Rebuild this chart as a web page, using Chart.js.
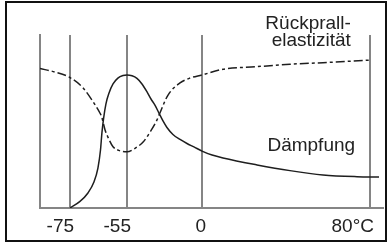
<!DOCTYPE html>
<html><head><meta charset="utf-8">
<script src="https://cdn.jsdelivr.net/npm/chart.js@4/dist/chart.umd.min.js"></script>
<style>
html,body{margin:0;padding:0;background:#fff;}
#wrap{position:relative;width:388px;height:243px;overflow:hidden;background:#fff;}
#c{position:absolute;left:0;top:0;}
#frame{position:absolute;left:5px;top:1px;width:378px;height:237px;border:2px solid #111;pointer-events:none;}
</style></head>
<body><div id="wrap"><canvas id="c" width="388" height="243"></canvas><div id="frame"></div></div>
<script>
// ---- data (temperature in °C, property in arbitrary units 0..100) ----
const tickValues = [-75, -55, 0, 80];
const tickLabels = ['-75', '-55', '0', '80°C'];

const rueckTemp  = [-90, -82.5, -75, -70.4, -66.9, -64.5, -63.9, -62.7, -61.7, -59.9, -57.5, -55, -49.1, -43.0, -38.1, -33.0, -31.2, -24.9, -16.1, -8.8, 0, 10, 26.2, 41.9, 57.6, 80];
const rueckValue = [80.6, 78.6, 75.4, 69.4, 61.4, 54.9, 52.8, 45.1, 41.0, 35.4, 33.1, 32.5, 34.5, 38.3, 43.9, 50.9, 54.3, 65.3, 72.3, 75.1, 76.9, 80.2, 81.7, 83.1, 84.0, 85.5];

const daempTemp  = [-75, -71.5, -68.7, -66.6, -65.2, -64.3, -63.8, -63.2, -62.4, -61.3, -59.9, -58.2, -56.4, -55, -51.3, -47.7, -44.0, -40.3, -37.4, -34.5, -31.2, -28.6, -25.7, -21.3, -16.1, -11.0, -5.9, 0, 4.8, 10, 26.2, 41.9, 57.6, 73.8, 84.3];
const daempValue = [0, 3.8, 8.7, 15.0, 23.1, 33.5, 43.4, 52.0, 60.1, 66.5, 71.7, 75.1, 76.6, 76.9, 76.4, 74.9, 71.7, 67.1, 63.0, 59.5, 54.3, 50.3, 46.5, 42.5, 39.6, 37.3, 35.3, 32.9, 30.6, 28.9, 24.9, 21.6, 19.1, 18.1, 17.9];

const seriesNames = ['Rückprall-elastizität', 'Dämpfung'];

// schematic (non-uniform) temperature axis: breakpoints of the original drawing
const axisStops = [-90, -75, -55, 0, 80, 86.2];
const axisFracs = [0, 0.0875, 0.2536, 0.4723, 0.9621, 1];

// curve captions anchored in data units
const captions = [
  {text: 'Rückprall-', t: 70.9, v: 103.5},
  {text: 'elastizität', t: 70.9, v: 93.6},
  {text: 'Dämpfung', t: 72.9, v: 32.7}
];

function tempToFrac(t) {
  const n = axisStops.length;
  let i = 0;
  if (t <= axisStops[0]) i = 0;
  else if (t >= axisStops[n - 1]) i = n - 2;
  else { while (i < n - 2 && t > axisStops[i + 1]) i++; }
  const a = axisStops[i], b = axisStops[i + 1];
  return axisFracs[i] + (t - a) / (b - a) * (axisFracs[i + 1] - axisFracs[i]);
}
function fracToTemp(f) {
  const n = axisFracs.length;
  let i = 0;
  while (i < n - 2 && f > axisFracs[i + 1]) i++;
  const a = axisFracs[i], b = axisFracs[i + 1];
  return axisStops[i] + (f - a) / (b - a) * (axisStops[i + 1] - axisStops[i]);
}

class PiecewiseScale extends Chart.LinearScale {
  getPixelForValue(value) {
    if (value === null || value === undefined || isNaN(value)) return NaN;
    return this.getPixelForDecimal(tempToFrac(value));
  }
  getValueForPixel(pixel) {
    return fracToTemp(this.getDecimalForPixel(pixel));
  }
}
PiecewiseScale.id = 'piecewise';
PiecewiseScale.defaults = Chart.LinearScale.defaults;
Chart.register(PiecewiseScale);

const FONT = '"Liberation Sans", Arial, Helvetica, sans-serif';
const INK = '#222';
const GRID = '#858585';

const captionPlugin = {
  id: 'captions',
  afterDraw(chart) {
    const {ctx, scales: {x, y}} = chart;
    ctx.save();
    ctx.fillStyle = INK;
    ctx.font = '19px ' + FONT;
    ctx.textAlign = 'right';
    ctx.textBaseline = 'alphabetic';
    captions.forEach(c => ctx.fillText(c.text, x.getPixelForValue(c.t), y.getPixelForValue(c.v)));
    ctx.restore();
  }
};

const toPts = (xs, ys) => xs.map((t, i) => ({x: t, y: ys[i]}));

new Chart(document.getElementById('c'), {
  type: 'line',
  data: {
    datasets: [
      {label: seriesNames[0], data: toPts(rueckTemp, rueckValue), borderColor: '#1e1e1e', borderWidth: 1.5,
       borderDash: [9, 3, 3, 3], pointRadius: 0, cubicInterpolationMode: 'monotone', fill: false},
      {label: seriesNames[1], data: toPts(daempTemp, daempValue), borderColor: '#1e1e1e', borderWidth: 1.5,
       pointRadius: 0, cubicInterpolationMode: 'monotone', fill: false}
    ]
  },
  options: {
    responsive: false,
    animation: false,
    events: [],
    layout: {padding: {left: 40, top: 35, right: 5, bottom: 0}},
    plugins: {legend: {display: false}, tooltip: {enabled: false}},
    scales: {
      x: {
        type: 'piecewise', min: axisStops[0], max: axisStops[axisStops.length - 1], bounds: 'data',
        afterBuildTicks: s => { s.ticks = tickValues.map(v => ({value: v})); },
        afterFit: s => { s.height = 35; s.paddingLeft = 0; s.paddingRight = 0; },
        grid: {color: GRID, lineWidth: 2, drawTicks: false},
        border: {display: true, color: GRID, width: 2},
        ticks: {autoSkip: false, maxRotation: 0, minRotation: 0, align: 'end', labelOffset: 4, padding: 7,
                color: INK, font: {family: FONT, size: 19},
                callback: (v, i) => tickLabels[i]}
      },
      y: {
        type: 'linear', min: 0, max: 100,
        afterFit: s => { s.width = 0; s.paddingTop = 0; s.paddingBottom = 0; },
        grid: {display: false, drawTicks: false},
        border: {display: true, color: GRID, width: 2},
        ticks: {display: false}
      }
    }
  },
  plugins: [captionPlugin]
});
</script>
</body></html>
